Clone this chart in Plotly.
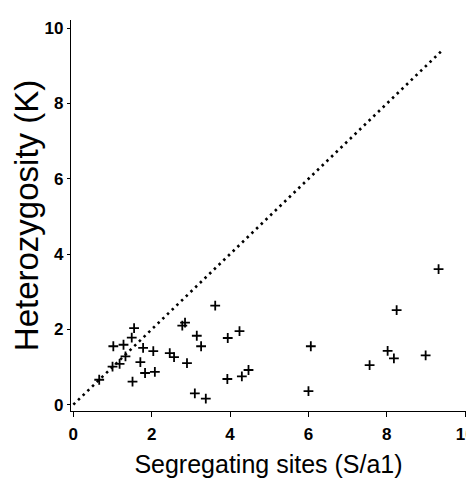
import plotly.graph_objects as go

seg_sites = [0.66, 1.0, 1.02, 1.18, 1.28, 1.33, 1.49, 1.55, 1.51, 1.71, 1.78, 1.83,
             2.04, 2.08, 2.46, 2.57, 2.78, 2.85, 2.9, 3.15, 3.26, 3.1, 3.38, 3.62,
             3.94, 4.24, 3.93, 4.3, 4.47, 6.06, 6.0, 7.56, 8.02, 8.18, 8.25, 8.99, 9.32]
heterozygosity = [0.66, 1.01, 1.55, 1.08, 1.59, 1.28, 1.78, 2.03, 0.61, 1.13, 1.51, 0.84,
                  1.42, 0.87, 1.37, 1.26, 2.10, 2.18, 1.10, 1.83, 1.55, 0.30, 0.16, 2.63,
                  1.77, 1.95, 0.68, 0.75, 0.92, 1.55, 0.36, 1.05, 1.43, 1.23, 2.51, 1.31, 3.6]
diag_line = [0, 9.4]
tick_vals = [0, 2, 4, 6, 8, 10]

fig = go.Figure()
fig.add_trace(go.Scatter(x=diag_line, y=diag_line, mode="lines",
                         line=dict(color="black", width=2.6, dash="2.5px,4px"),
                         showlegend=False, hoverinfo="skip"))
fig.add_trace(go.Scatter(x=seg_sites, y=heterozygosity, mode="markers",
                         marker=dict(symbol="cross-thin", size=7,
                                     line=dict(color="black", width=1.8)),
                         showlegend=False))

tfont = dict(size=17, family="Liberation Sans, Arial, sans-serif", weight="bold")
fig.update_layout(
    width=474, height=480,
    margin=dict(l=63, r=7, t=12, b=77),
    plot_bgcolor="white", paper_bgcolor="white",
    font=dict(family="Liberation Sans, Arial, sans-serif", color="black"),
    xaxis=dict(range=[-0.06, 10.02], tickvals=tick_vals, showgrid=False, zeroline=False,
               showline=True, linecolor="black", linewidth=1.3,
               ticks="outside", ticklen=5, tickwidth=1.3, tickcolor="black",
               tickfont=tfont, ticklabelstandoff=2, ticklabeloverflow="allow",
               title=dict(text="Segregating sites (S/a1)", font=dict(size=25), standoff=12)),
    yaxis=dict(range=[-0.17, 10.22], tickvals=tick_vals, showgrid=False, zeroline=False,
               showline=True, linecolor="black", linewidth=1.3,
               ticks="outside", ticklen=3, tickwidth=1.3, tickcolor="black",
               tickfont=tfont, ticklabelstandoff=0, ticklabeloverflow="allow",
               title=dict(text="Heterozygosity (K)", font=dict(size=33), standoff=0)),
)

fig.write_html("out.html")
